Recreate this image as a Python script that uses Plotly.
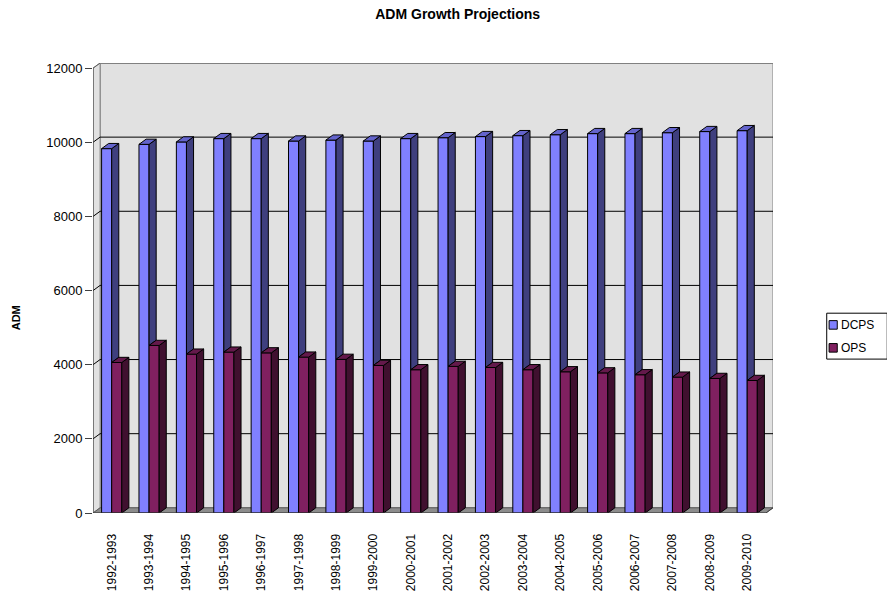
import plotly.graph_objects as go

# ADM by school year, two systems
periods = ["1992-1993", "1993-1994", "1994-1995", "1995-1996", "1996-1997",
           "1997-1998", "1998-1999", "1999-2000", "2000-2001", "2001-2002",
           "2002-2003", "2003-2004", "2004-2005", "2005-2006", "2006-2007",
           "2007-2008", "2008-2009", "2009-2010"]
dcps = [9830, 9945, 10010, 10100, 10100, 10035, 10060, 10035, 10100, 10125,
        10155, 10180, 10205, 10235, 10235, 10260, 10290, 10315]
ops = [4060, 4520, 4285, 4340, 4320, 4205, 4145, 3980, 3865, 3955,
       3925, 3865, 3810, 3780, 3730, 3665, 3630, 3575]
y_ticks = [0, 2000, 4000, 6000, 8000, 10000, 12000]

series = [
    {"name": "DCPS", "values": dcps, "front": "#8080FF", "top": "#6464CC", "side": "#3F3F7E"},
    {"name": "OPS", "values": ops, "front": "#802060", "top": "#64194B", "side": "#40102F"},
]

# pseudo-3D geometry (data units)
BAR_W = 0.27      # width of one column face
DX = 0.19         # depth offset along x
DY = 140          # depth offset along y
Y_MAX = 12000
n = len(periods)
idx = list(range(n))
x_left, x_right = -0.5, n - 0.5

FONT = "Liberation Sans, Arial, sans-serif"
WALL = "#E1E1E1"
EDGE = "#808080"

fig = go.Figure()


def poly(xs, ys):
    return xs + [xs[0], None], ys + [ys[0], None]


# column faces: front as bars, top and side as filled polygons
for k, s in enumerate(series):
    offset = -BAR_W if k == 0 else 0.0
    vals = s["values"]
    fig.add_trace(go.Bar(
        x=idx, y=vals, width=BAR_W, offset=offset, base=0,
        marker=dict(color=s["front"], line=dict(color="black", width=1)),
        name=s["name"], showlegend=False, hoverinfo="skip",
    ))
    tx, ty, sx, sy = [], [], [], []
    for i, v in enumerate(vals):
        x0 = i + offset
        x1 = x0 + BAR_W
        a, b = poly([x0, x1, x1 + DX, x0 + DX], [v, v, v + DY, v + DY])
        tx += a
        ty += b
        # side face; the first series is partly hidden behind the second
        low = ops[i] if k == 0 else 0
        a, b = poly([x1, x1, x1 + DX, x1 + DX], [low, v, v + DY, low + DY])
        sx += a
        sy += b
    for xs, ys, col in ((sx, sy, s["side"]), (tx, ty, s["top"])):
        fig.add_trace(go.Scatter(
            x=xs, y=ys, mode="lines", fill="toself", fillcolor=col,
            line=dict(color="black", width=1), showlegend=False,
            hoverinfo="skip",
        ))

shapes = []
# back wall, left wall, floor
shapes.append(dict(type="rect", xref="x", yref="y", layer="below",
                   x0=x_left + DX, x1=x_right + DX, y0=DY, y1=Y_MAX + DY,
                   fillcolor=WALL, line=dict(color=EDGE, width=1)))
shapes.append(dict(type="path", xref="x", yref="y", layer="below",
                   path=f"M{x_left},0 L{x_left},{Y_MAX} L{x_left + DX},{Y_MAX + DY} "
                        f"L{x_left + DX},{DY} Z",
                   fillcolor=WALL, line=dict(color=EDGE, width=1)))
shapes.append(dict(type="path", xref="x", yref="y", layer="below",
                   path=f"M{x_left},0 L{x_right},0 L{x_right + DX},{DY} "
                        f"L{x_left + DX},{DY} Z",
                   fillcolor="#8C8C8C", line=dict(color="#5A5A5A", width=1)))
# gridlines on back and left walls
for v in y_ticks[1:-1]:
    shapes.append(dict(type="line", xref="x", yref="y", layer="below",
                       x0=x_left + DX, x1=x_right + DX, y0=v + DY, y1=v + DY,
                       line=dict(color="black", width=1)))
    shapes.append(dict(type="line", xref="x", yref="y", layer="below",
                       x0=x_left, x1=x_left + DX, y0=v, y1=v + DY,
                       line=dict(color="black", width=1)))
# top and right edges of the back wall
shapes.append(dict(type="line", xref="x", yref="y", layer="below",
                   x0=x_left + DX, x1=x_right + DX, y0=Y_MAX + DY, y1=Y_MAX + DY,
                   line=dict(color=EDGE, width=2)))
shapes.append(dict(type="line", xref="x", yref="y", layer="below",
                   x0=x_left, x1=x_left + DX, y0=Y_MAX, y1=Y_MAX + DY,
                   line=dict(color="#606060", width=1)))
# front axis lines
shapes.append(dict(type="line", xref="x", yref="y",
                   x0=x_left, x1=x_left, y0=0, y1=Y_MAX,
                   line=dict(color="#404040", width=1)))
shapes.append(dict(type="line", xref="x", yref="y",
                   x0=x_left, x1=x_right, y0=0, y1=0,
                   line=dict(color="#404040", width=1)))
shapes.append(dict(type="line", xref="x", yref="y",
                   x0=x_right, x1=x_right + DX, y0=0, y1=DY,
                   line=dict(color="#404040", width=1)))

# legend box
LEG_X0, LEG_X1 = 1.079, 1.168
LEG_Y0, LEG_Y1 = 0.342, 0.444
shapes.append(dict(type="rect", xref="paper", yref="paper",
                   x0=LEG_X0, x1=LEG_X1, y0=LEG_Y0, y1=LEG_Y1,
                   fillcolor="white", line=dict(color="black", width=1)))
annotations = []
for k, s in enumerate(series):
    yc = 0.418 - k * 0.051
    shapes.append(dict(type="rect", xref="paper", yref="paper",
                       x0=LEG_X0 + 0.0035, x1=LEG_X0 + 0.0155,
                       y0=yc - 0.0095, y1=yc + 0.0095,
                       fillcolor=s["front"], line=dict(color="black", width=1)))
    annotations.append(dict(text=s["name"], xref="paper", yref="paper",
                            x=LEG_X0 + 0.018, y=yc, xanchor="left", yanchor="middle",
                            showarrow=False,
                            font=dict(family=FONT, size=12, color="black")))

annotations.append(dict(text="ADM", xref="paper", yref="paper",
                        x=-0.113, y=0.433, textangle=-90, showarrow=False,
                        xanchor="center", yanchor="middle",
                        font=dict(family=FONT, size=11, color="black", weight="bold")))

fig.update_layout(
    width=887, height=597,
    margin=dict(l=93, r=114, t=63, b=84, autoexpand=False),
    paper_bgcolor="white", plot_bgcolor="white",
    barmode="overlay",
    showlegend=False,
    title=dict(text="ADM Growth Projections", xref="container", yref="container",
               x=0.516, y=1 - 14 / 597, xanchor="center", yanchor="middle",
               font=dict(family=FONT, size=14, color="black", weight="bold")),
    xaxis=dict(range=[x_left, x_right + DX], tickvals=idx, ticktext=periods,
               tickangle=-90, ticks="outside", ticklen=15, automargin=False,
               tickcolor="rgba(0,0,0,0)", showgrid=False, zeroline=False,
               showline=False, tickfont=dict(family=FONT, size=12, color="black"),
               fixedrange=True),
    xaxis2=dict(overlaying="x", anchor="y", side="bottom",
                range=[x_left, x_right + DX], automargin=False,
                tickvals=[x_left + i for i in range(n + 1)],
                ticks="outside", ticklen=7, tickcolor="#404040", tickwidth=1,
                showticklabels=False, showgrid=False, zeroline=False,
                showline=False),
    yaxis=dict(range=[0, Y_MAX + DY], tickvals=y_ticks, tickformat="d",
               ticks="outside", ticklen=7, tickcolor="#404040", tickwidth=1,
               showgrid=False, zeroline=False, showline=False, automargin=False,
               tickfont=dict(family=FONT, size=13, color="black"),
               fixedrange=True),
    shapes=shapes,
    annotations=annotations,
)

fig.write_html("out.html")
